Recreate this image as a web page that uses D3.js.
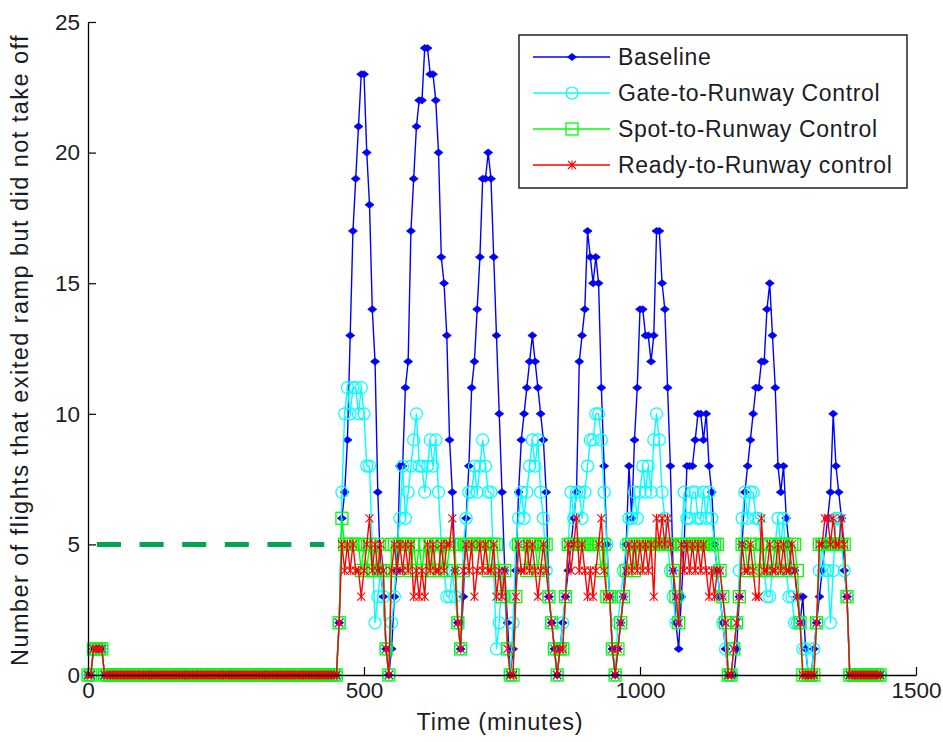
<!DOCTYPE html>
<html><head><meta charset="utf-8">
<script src="https://cdn.jsdelivr.net/npm/d3@7"></script>
<style>body{margin:0;background:#fff} svg{display:block}</style>
</head><body><svg id="c" width="943" height="742"></svg>
<script>
// ---- DATA (5-minute samples, t = 0 … 1435 min) ----
const STEP_MIN = 5;
// samples 0..90 (0–450 min) — identical for all four runs
const preRamp = [0,0,1,1,1,1,0,0,0,0, 0,0,0,0,0,0,0,0,0,0, 0,0,0,0,0,0,0,0,0,0,
  0,0,0,0,0,0,0,0,0,0, 0,0,0,0,0,0,0,0,0,0, 0,0,0,0,0,0,0,0,0,0,
  0,0,0,0,0,0,0,0,0,0, 0,0,0,0,0,0,0,0,0,0, 0,0,0,0,0,0,0,0,0,0, 0];
// samples 91..287
const baselineTail = [2,6,7,9,13,17,19,21,23,23, 20,18,14,12,7,4,3,1,0,1,
  3,4,8,8,11,12,17,19,21,22, 22,24,24,23,23,22,20,16,15,13, 9,7,4,2,1,3,6,8,11,12,
  14,16,19,19,20,19,16,13,10,7, 4,2,0,1,4,7,9,10,11,12, 13,12,11,10,9,7,3,2,1,0,
  1,2,3,4,5,6,7,12,13,14, 17,16,15,16,15,11,8,5,3,1, 0,1,2,3,5,8,6,9,11,14,
  14,13,13,12,13,17,17,15,14,11, 8,4,2,1,3,5,8,8,8,9, 10,10,9,10,8,7,5,4,3,2,
  1,0,0,0,1,3,5,7,8,9, 10,11,11,12,12,14,15,13,11,8, 7,8,6,5,4,4,3,2,3,1,
  0,0,1,2,3,4,5,6,7,10, 8,7,6,4,3,0,0,0,0,0, 0,0,0,0,0,0,0];
const gateTail = [2,7,10,11,10,11,11,10,11,10, 8,8,5,2,3,4,3,1,0,2,
  3,5,6,8,6,7,8,9,10,8, 8,7,8,9,8,9,7,5,4,3, 3,4,3,2,1,5,6,7,7,8,
  7,8,9,8,7,7,4,1,2,4, 3,1,0,2,5,6,7,6,7,8, 9,8,9,7,6,4,3,2,1,0,
  1,2,3,5,7,6,7,7,6,7, 8,9,9,10,10,9,7,5,3,1, 0,2,3,4,5,6,6,7,6,7,
  8,7,8,7,9,10,9,7,6,5, 4,3,2,3,5,7,6,6,7,7, 6,6,7,6,7,6,5,4,3,2,
  1,0,0,1,2,4,6,7,6,7, 7,6,6,5,4,3,3,4,5,6, 5,6,4,3,3,2,2,2,1,1,
  0,0,1,2,4,5,4,4,2,4, 6,6,5,4,3,0,0,0,0,0, 0,0,0,0,0,0,0];
const spotTail = [2,6,5,5,5,5,5,5,4,5, 4,5,4,4,5,4,4,1,0,5,
  5,4,5,5,5,5,4,5,4,5, 4,5,4,5,4,5,5,4,5,4, 5,5,5,2,1,4,5,5,5,5,
  5,5,5,5,4,5,5,5,4,3, 4,1,0,0,3,5,5,5,4,5, 5,5,4,5,5,5,3,2,1,0,
  1,1,3,5,5,5,5,5,5,5, 5,5,5,5,5,4,5,3,3,1, 0,1,2,3,4,5,5,4,5,5,
  5,5,5,5,5,5,5,5,5,5, 5,4,3,2,5,5,5,5,5,5, 5,5,5,5,5,5,5,5,4,3,
  2,0,0,1,2,3,5,5,4,5, 5,4,4,5,4,5,5,4,5,4, 5,5,5,4,5,5,4,2,0,0,
  0,0,0,2,5,5,5,5,5,5, 5,5,5,5,3,0,0,0,0,0, 0,0,0,0,0,0,0];
const readyTail = [2,5,4,5,4,5,4,4,3,4, 5,6,4,5,4,5,4,1,0,4,
  5,4,5,4,5,4,5,3,4,3, 4,3,5,4,5,4,4,5,4,5, 5,6,4,2,1,4,5,4,5,3,
  4,5,4,5,4,4,5,3,4,3, 4,1,0,0,3,5,4,4,5,4, 5,4,3,4,5,4,3,2,1,0,
  1,1,3,5,4,5,6,4,5,4, 3,4,3,4,5,6,4,3,3,1, 0,1,2,3,4,5,4,5,4,5,
  4,5,4,5,3,6,5,6,5,6, 5,4,3,2,5,4,5,4,5,4, 5,4,5,4,3,4,3,4,4,3,
  2,0,0,1,2,3,5,4,4,5, 4,3,3,6,4,4,5,4,4,5, 4,5,4,4,5,4,3,2,0,0,
  0,0,0,2,5,5,6,6,5,6, 5,5,6,5,3,0,0,0,0,0, 0,0,0,0,0,0,0];

const baseline = preRamp.concat(baselineTail);
const gateCtrl = preRamp.concat(gateTail);
const spotCtrl = preRamp.concat(spotTail);
const readyCtrl = preRamp.concat(readyTail);
const times = d3.range(baseline.length).map(i => i * STEP_MIN);

const seriesNames = ["Baseline", "Gate-to-Runway Control", "Spot-to-Runway Control", "Ready-to-Runway control"];
const xTicks = [0, 500, 1000, 1500];
const yTicks = [0, 5, 10, 15, 20, 25];
const capLevel = 5, capEndTime = 428;
const xLabel = "Time (minutes)";
const yLabel = "Number of flights that exited ramp but did not take off";

// ---- DRAW ----
const svg = d3.select("#c");
const FONT = "'Liberation Sans', Arial, sans-serif";
const TXT = "#1c1c24";
const x = d3.scaleLinear().domain([0, 1500]).range([88, 916]);
const y = d3.scaleLinear().domain([0, 25]).range([675, 22]);

const styles = [
  {color: "#0000ff", marker: "dot"},
  {color: "#00ffff", marker: "circle"},
  {color: "#00ff00", marker: "square"},
  {color: "#ff0000", marker: "star"}
];
const data = [baseline, gateCtrl, spotCtrl, readyCtrl];

function drawMarker(g, type, color) {
  if (type === "dot") {
    g.append("path").attr("d", "M-4.5,0L0,-3.5L4.5,0L0,3.5Z").attr("fill", color).attr("stroke", color).attr("stroke-width", 0.8);
  } else if (type === "circle") {
    g.append("circle").attr("r", 6).attr("fill", "none").attr("stroke", color).attr("stroke-width", 1.2);
  } else if (type === "square") {
    g.append("rect").attr("x", -6).attr("y", -6).attr("width", 12).attr("height", 12)
      .attr("fill", "none").attr("stroke", color).attr("stroke-width", 1.3);
  } else {
    g.append("path").attr("d", "M-4,-4L4,4M-4,4L4,-4M0,-4.5L0,4.5").attr("fill", "none").attr("stroke", color).attr("stroke-width", 1.1);
  }
}

// dashed cap line
svg.append("line")
  .attr("x1", x(0)).attr("x2", x(capEndTime))
  .attr("y1", y(capLevel)).attr("y2", y(capLevel))
  .attr("stroke", "#00a651").attr("stroke-width", 5)
  .attr("stroke-dasharray", "24,18.6").attr("stroke-dashoffset", 33.6);

const line = d3.line().x((d, i) => x(times[i])).y(d => y(d));

data.forEach((vals, k) => {
  const st = styles[k];
  const g = svg.append("g");
  g.append("path").attr("d", line(vals)).attr("fill", "none")
    .attr("stroke", st.color).attr("stroke-width", 1.4).attr("stroke-linejoin", "round");
  vals.forEach((v, i) => {
    const m = g.append("g").attr("transform", `translate(${x(times[i])},${y(v)})`);
    drawMarker(m, st.marker, st.color);
  });
});

// axes
const yAxis = d3.axisLeft(y).tickValues(yTicks).tickFormat(d3.format("d")).tickSizeInner(-8).tickSizeOuter(0).tickPadding(8);
const xAxis = d3.axisBottom(x).tickValues(xTicks).tickFormat(d3.format("d")).tickSizeInner(-8).tickSizeOuter(0).tickPadding(7);
const gy = svg.append("g").attr("transform", `translate(${x(0)},0)`).call(yAxis);
const gx = svg.append("g").attr("transform", `translate(0,${y(0)})`).call(xAxis);
[gx, gy].forEach(g => {
  g.selectAll("path.domain").attr("stroke", "#000").attr("stroke-width", 1.3);
  g.selectAll(".tick line").attr("stroke", "#000").attr("stroke-width", 1.2);
  g.selectAll("text").attr("fill", TXT).style("font-family", FONT).style("font-size", "22.5px");
});

svg.append("text").attr("x", 500).attr("y", 730).attr("text-anchor", "middle")
  .style("font-family", FONT).style("font-size", "23.5px").style("letter-spacing", "0.8px")
  .attr("fill", TXT).text(xLabel);
svg.append("text").attr("transform", "translate(28,350) rotate(-90)").attr("text-anchor", "middle")
  .style("font-family", FONT).style("font-size", "23.5px").style("letter-spacing", "1.45px")
  .attr("fill", TXT).text(yLabel);

// legend
const lg = svg.append("g");
lg.append("rect").attr("x", 519).attr("y", 35).attr("width", 388).attr("height", 153)
  .attr("fill", "#fff").attr("stroke", "#222").attr("stroke-width", 1.5);
seriesNames.forEach((name, k) => {
  const yy = 57 + k * 36;
  lg.append("line").attr("x1", 533).attr("x2", 610).attr("y1", yy).attr("y2", yy)
    .attr("stroke", styles[k].color).attr("stroke-width", 1.4);
  const m = lg.append("g").attr("transform", `translate(572,${yy})`);
  drawMarker(m, styles[k].marker, styles[k].color);
  lg.append("text").attr("x", 618).attr("y", yy).attr("dy", "0.35em")
    .style("font-family", FONT).style("font-size", "23px").style("letter-spacing", "0.65px")
    .attr("fill", TXT).text(name);
});
</script></body></html>
